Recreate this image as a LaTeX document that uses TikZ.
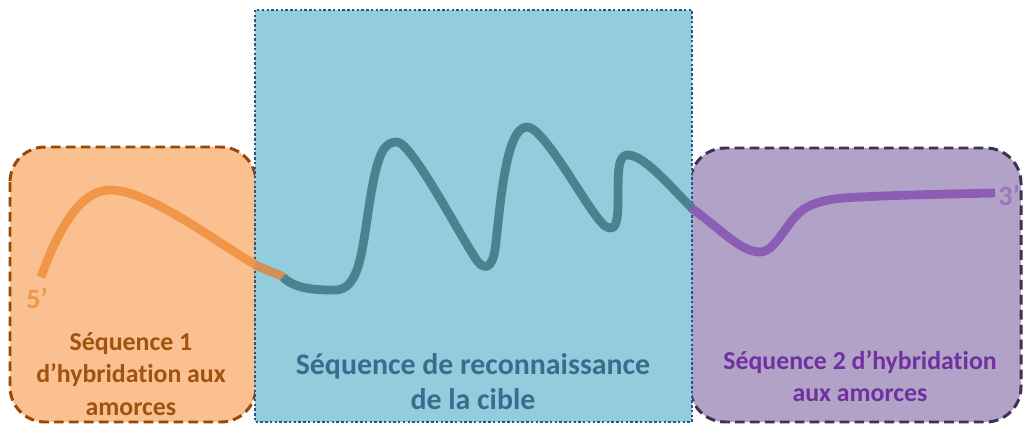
\documentclass[tikz,border=0pt]{standalone}
\usepackage{fontspec}
\setmainfont{Carlito}[Ligatures=NoCommon]
\usetikzlibrary{positioning}

\definecolor{orangefill}{HTML}{FAC090}
\definecolor{orangeline}{HTML}{984807}
\definecolor{orangestrand}{HTML}{F09649}
\definecolor{orangetext}{HTML}{A0520F}
\definecolor{tanstrand}{HTML}{D09058}
\definecolor{bluefill}{HTML}{93CDDD}
\definecolor{blueline}{HTML}{24558A}
\definecolor{bluestrand}{HTML}{4A8290}
\definecolor{bluetext}{HTML}{3C6B8E}
\definecolor{purplefill}{HTML}{B3A2C7}
\definecolor{purpleline}{HTML}{3F3151}
\definecolor{purplestrand}{HTML}{8B5DB5}
\definecolor{purpletext}{HTML}{7030A0}

\tikzset{
  seqbox/.style={line width=1.7pt, rounded corners=20pt, dash pattern=on 5.5pt off 3pt},
  strand/.style={line width=5pt, line join=round},
  seqtext/.style={align=center, font=\bfseries\fontsize{14.7}{18.5}\selectfont},
  endtext/.style={font=\bfseries\fontsize{16}{18}\selectfont},
}

\begin{document}
\begin{tikzpicture}[x=0.02cm, y=-0.02cm]
            % Fix the size of the picture (pixels of the reference)
            \useasboundingbox (0,0) rectangle (1023,425);

            % The two primer boxes, dashed and rounded
            \draw[seqbox, draw=orangeline, fill=orangefill] (10,147) rectangle (256,422);
            \draw[seqbox, draw=purpleline, fill=purplefill] (690,148) rectangle (1021,422);

            % The target box in the middle, dotted
            \draw[draw=blueline, fill=bluefill, line width=1.4pt, dash pattern=on 1.4pt off 1.3pt] (255,10) rectangle (692,422);

            % Strand 5' side (orange) and the short joint (tan)
            \draw[strand, orangestrand] (41,277) .. controls (58,230) and (80,190) .. (110,190)
                .. controls (150,190) and (220,245) .. (256,265);
            \draw[strand, tanstrand] (255,265) -- (284,277);

            % Strand in the target region (teal)
            \draw[strand, bluestrand] (283,277) .. controls (295,290) and (320,290) .. (335,290)
                .. controls (360,290) and (362,250) .. (370,200)
                .. controls (378,150) and (385,142) .. (397,142)
                .. controls (412,142) and (465,245) .. (478,262)
                .. controls (485,270) and (492,268) .. (495,250)
                .. controls (500,210) and (505,127) .. (527,127)
                .. controls (545,127) and (590,215) .. (605,226)
                .. controls (615,232) and (618,225) .. (618,200)
                .. controls (618,170) and (618,155) .. (628,155)
                .. controls (645,155) and (675,192) .. (692,208);

            % Strand 3' side (purple)
            \draw[strand, purplestrand] (691,208) .. controls (720,228) and (740,252) .. (760,252)
                .. controls (775,252) and (785,225) .. (800,212)
                .. controls (812,202) and (830,198) .. (860,197)
                .. controls (900,195) and (950,194) .. (995,193);

            % Label the ends of the strand
            \node[endtext, text=orangestrand] (end5) at (37,298) {5’};
            \node[endtext, text=purplestrand!85!white] (end3) at (1009,195) {3’};

            % Label the three regions
            \node[seqtext, text=orangetext] (seqone) at (131,374) {Séquence 1\\d’hybridation aux\\amorces};
            \node[seqtext, text=bluetext, font=\bfseries\fontsize{17}{19.8}\selectfont] (seqtarget) at (473,382) {Séquence de reconnaissance\\de la cible};
            \node[seqtext, text=purpletext] (seqtwo) at (860,376) {Séquence 2 d’hybridation\\aux amorces};
        \end{tikzpicture}
\end{document}
